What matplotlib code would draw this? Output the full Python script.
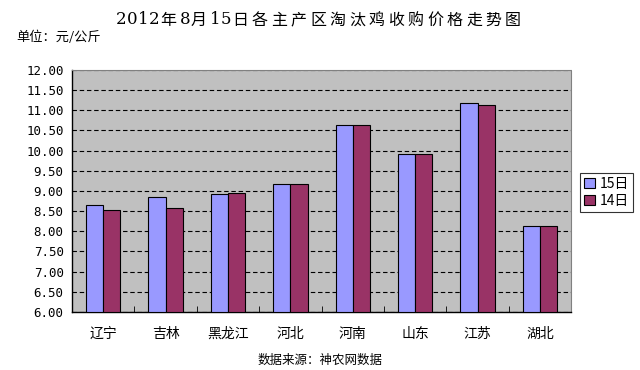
import matplotlib
matplotlib.use("Agg")
import matplotlib.pyplot as plt
import numpy as np

plt.rcParams['font.family'] = ['Noto Sans CJK SC', 'DejaVu Sans']

categories = ['辽宁', '吉林', '黑龙江', '河北', '河南', '山东', '江苏', '湖北']
series_names = ['15日', '14日']
values_15 = [8.65, 8.84, 8.92, 9.17, 10.63, 9.91, 11.17, 8.12]
values_14 = [8.53, 8.57, 8.95, 9.17, 10.63, 9.91, 11.12, 8.12]
yticks = [6.0 + 0.5 * i for i in range(13)]
title = '2012年8月15日各主产区淘汰鸡收购价格走势图'

W, H = 640, 370
fig = plt.figure(figsize=(6.4, 3.7), dpi=100)
ax = fig.add_axes([0.1125, 0.157, 0.78, 0.654])
ax.set_facecolor('#C0C0C0')

x = np.arange(len(categories))
w = 0.275
ax.bar(x - w / 2, np.array(values_15) - 6.0, width=w, bottom=6.0, color='#9999FF',
       edgecolor='black', linewidth=0.8, label=series_names[0], zorder=3)
ax.bar(x + w / 2, np.array(values_14) - 6.0, width=w, bottom=6.0, color='#993366',
       edgecolor='black', linewidth=0.8, label=series_names[1], zorder=3)

ax.set_xlim(-0.5, len(categories) - 0.5)
ax.set_ylim(6.0, 12.0)
ax.set_yticks(yticks)
ax.set_yticklabels([f'{v:.2f}' for v in yticks], fontsize=9, family='DejaVu Sans Mono')
ax.yaxis.grid(True, linestyle=(0, (4, 2.5)), color='black', linewidth=0.8, zorder=1)
ax.set_xticks(x)
ax.set_xticklabels(categories, fontsize=10)
ax.set_xticks(np.arange(len(categories) + 1) - 0.5, minor=True)
ax.tick_params(axis='x', which='major', length=0, pad=11)
ax.tick_params(axis='x', which='minor', length=4, direction='in')
ax.tick_params(axis='y', length=0, pad=6)

for s in ['top', 'right']:
    ax.spines[s].set_color('#808080')
    ax.spines[s].set_linestyle((0, (1, 1)))
    ax.spines[s].set_linewidth(0.8)
ax.spines['left'].set_linewidth(1.0)
ax.spines['bottom'].set_linewidth(1.0)

leg = ax.legend(loc='upper left', bbox_to_anchor=(1.018, 0.575), frameon=True, fontsize=10,
                handlelength=0.8, handleheight=0.8, handletextpad=0.3, borderpad=0.3,
                labelspacing=0.2, fancybox=False, borderaxespad=0)
leg.get_frame().set_edgecolor('black')
leg.get_frame().set_linewidth(0.8)

# Title drawn with wide letter spacing like the original
px = 116.0
for ch in title:
    is_digit = ch.isdigit()
    fig.text(px / W, 1 - 20 / H, ch, ha='left', va='center',
             fontsize=12 if is_digit else 11.5,
             family=['DejaVu Serif', 'Noto Sans CJK SC'] if is_digit else ['Noto Sans CJK SC'])
    px += 11.0 if ch.isascii() else 19.5

fig.text(16 / W, 1 - 37 / H, '单位：元/公斤', ha='left', va='center', fontsize=9.5)
fig.text(0.5, 8 / H + 0.004, '数据来源：神农网数据', ha='center', va='center', fontsize=9)

fig.savefig('out.png', dpi=100)
